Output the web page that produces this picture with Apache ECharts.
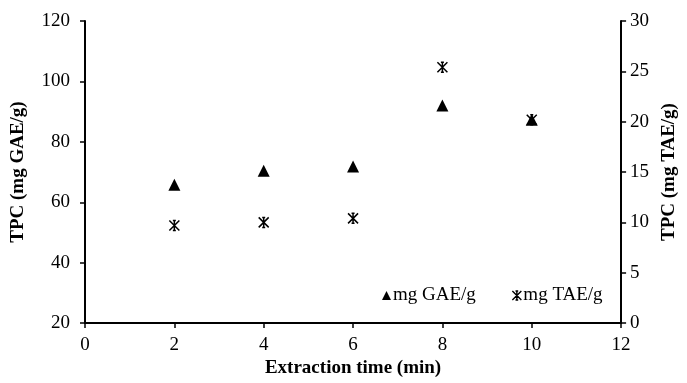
<!DOCTYPE html>
<html>
<head>
<meta charset="utf-8">
<script src="https://cdn.jsdelivr.net/npm/echarts@6/dist/echarts.min.js"></script>
<style>
  html, body { margin: 0; padding: 0; background: #fff; }
  #chart { width: 687px; height: 383px; }
</style>
</head>
<body>
<div id="chart"></div>
<script>
// Extraction time (min)
const times = [2, 4, 6, 8, 10];
// Total phenolic content, gallic acid equivalents (left axis)
const gaeValues = [65.8, 70.4, 71.8, 92.0, 87.3];
// Total phenolic content, tannic acid equivalents (right axis)
const taeValues = [9.7, 10.0, 10.4, 25.4, 20.2];

const serif = 'Liberation Serif, Times New Roman, serif';
const fs = 19;
const asterisk = 'path://M0,0 L10,10 M10,0 L0,10 M5,0 L5,10 M3.5,0 L6.5,0 M3.5,10 L6.5,10';

const chart = echarts.init(document.getElementById('chart'));
chart.setOption({
  animation: false,
  backgroundColor: '#fff',
  textStyle: { fontFamily: serif, color: '#000' },
  grid: { left: 85, right: 63, top: 21, bottom: 56 },
  legend: {
    left: 382, top: 286, padding: 0, itemGap: 34, itemWidth: 9, itemHeight: 9,
    textStyle: { fontFamily: serif, fontSize: fs, color: '#000', padding: [0, 0, 0, -3] },
    data: [
      { name: 'mg GAE/g', icon: 'triangle', itemStyle: { color: '#000' } },
      { name: 'mg TAE/g', icon: asterisk, itemStyle: { color: 'none', borderColor: '#000', borderWidth: 1.4 } }
    ]
  },
  xAxis: {
    type: 'value', min: 0, max: 12, interval: 2,
    name: 'Extraction time (min)', nameLocation: 'middle', nameGap: 32,
    nameTextStyle: { fontFamily: serif, fontSize: fs, fontWeight: 'bold', color: '#000' },
    axisLine: { lineStyle: { color: '#000', width: 2 } },
    axisTick: { show: true, length: 5, lineStyle: { color: '#000', width: 1.5 } },
    axisLabel: { fontFamily: serif, fontSize: fs, color: '#000', margin: 12 },
    splitLine: { show: false }
  },
  yAxis: [
    {
      type: 'value', min: 20, max: 120, interval: 20, position: 'left',
      name: 'TPC (mg GAE/g)', nameLocation: 'middle', nameGap: 57, nameRotate: 90,
      nameTextStyle: { fontFamily: serif, fontSize: fs, fontWeight: 'bold', color: '#000' },
      axisLine: { show: true, lineStyle: { color: '#000', width: 2 } },
      axisTick: { show: true, length: 5, lineStyle: { color: '#000', width: 1.5 } },
      axisLabel: { fontFamily: serif, fontSize: fs, color: '#000', margin: 15 },
      splitLine: { show: false }
    },
    {
      type: 'value', min: 0, max: 30, interval: 5, position: 'right',
      name: 'TPC (mg TAE/g)', nameLocation: 'middle', nameGap: 38, nameRotate: 90,
      nameTextStyle: { fontFamily: serif, fontSize: fs, fontWeight: 'bold', color: '#000' },
      axisLine: { show: true, lineStyle: { color: '#000', width: 2 } },
      axisTick: { show: true, length: 5, lineStyle: { color: '#000', width: 1.5 } },
      axisLabel: { fontFamily: serif, fontSize: fs, color: '#000', margin: 9 },
      splitLine: { show: false }
    }
  ],
  series: [
    {
      name: 'mg GAE/g', type: 'scatter', yAxisIndex: 0,
      symbol: 'triangle', symbolSize: 12,
      itemStyle: { color: '#000', opacity: 1 },
      data: times.map((t, i) => [t, gaeValues[i]])
    },
    {
      name: 'mg TAE/g', type: 'scatter', yAxisIndex: 1,
      symbol: asterisk, symbolSize: 10,
      itemStyle: { color: 'none', borderColor: '#000', borderWidth: 1.5, opacity: 1 },
      data: times.map((t, i) => [t, taeValues[i]])
    }
  ]
});
</script>
</body>
</html>
